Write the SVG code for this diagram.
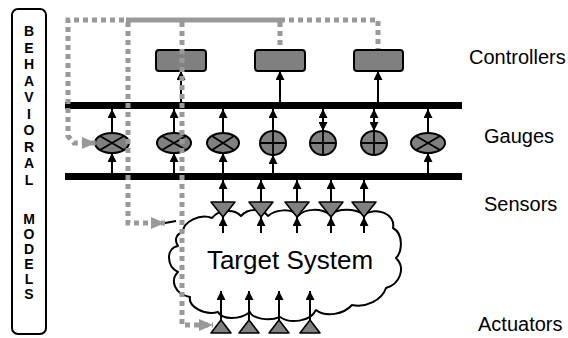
<svg xmlns="http://www.w3.org/2000/svg" width="568" height="338" viewBox="0 0 568 338">
  <defs>
    <marker id="ah" markerUnits="userSpaceOnUse" markerWidth="9" markerHeight="9" refX="9" refY="4.5" orient="auto-start-reverse" viewBox="0 0 9 9">
      <path d="M0,0 L9,4.5 L0,9 Z" fill="#000"/>
    </marker>
    <marker id="gah" markerUnits="userSpaceOnUse" markerWidth="14" markerHeight="12" refX="14" refY="6" orient="auto" viewBox="0 0 14 12">
      <path d="M0,0 L14,6 L0,12 Z" fill="#999"/>
    </marker>
    <style>
      .bg { fill: #fff; }
      .bar { fill: #000; }
      .arr { stroke: #000; stroke-width: 2; fill: none; marker-end: url(#ah); }
      .dbl { stroke: #000; stroke-width: 2; fill: none; marker-end: url(#ah); marker-start: url(#ah); }
      .plain { stroke: #000; stroke-width: 2; fill: none; }
      .ctrl { fill: #808080; stroke: #000; stroke-width: 2; }
      .gauge { fill: #808080; stroke: #000; stroke-width: 2; }
      .mark { stroke: #000; stroke-width: 1.8; fill: none; }
      .tri { fill: #808080; stroke: #000; stroke-width: 1.6; stroke-linejoin: round; }
      .dot { stroke: #999; stroke-width: 5; fill: none; stroke-dasharray: 5 4; }
      .dotarr { stroke: #999; stroke-width: 5; fill: none; stroke-dasharray: 5 4; marker-end: url(#gah); }
      .solid { stroke: #999; stroke-width: 5; fill: none; }
      .cloud { fill: #fff; stroke: #000; stroke-width: 2; stroke-linejoin: round; }
      .lbl { font-family: "Liberation Sans", Arial, sans-serif; font-size: 20px; fill: #000; }
      .big { font-family: "Liberation Sans", Arial, sans-serif; font-size: 26px; fill: #000; }
      .vlet { font-family: "Liberation Sans", Arial, sans-serif; font-size: 14px; font-weight: bold; fill: #000; text-anchor: middle; }
    </style>
  </defs>

  <rect class="bg" x="0" y="0" width="568" height="338"/>

  <!-- behavioral models column -->
  <g id="behavioral-models">
    <rect x="12" y="9" width="34" height="325" rx="6" ry="6" fill="#fff" stroke="#000" stroke-width="2"/>
    <text class="vlet" x="29" y="36">B</text>
    <text class="vlet" x="29" y="52.5">E</text>
    <text class="vlet" x="29" y="69">H</text>
    <text class="vlet" x="29" y="85.5">A</text>
    <text class="vlet" x="29" y="102">V</text>
    <text class="vlet" x="29" y="118.5">I</text>
    <text class="vlet" x="29" y="135">O</text>
    <text class="vlet" x="29" y="151.5">R</text>
    <text class="vlet" x="29" y="168">A</text>
    <text class="vlet" x="29" y="184.5">L</text>
    <text class="vlet" x="29" y="224">M</text>
    <text class="vlet" x="29" y="239">O</text>
    <text class="vlet" x="29" y="254">D</text>
    <text class="vlet" x="29" y="269">E</text>
    <text class="vlet" x="29" y="284">L</text>
    <text class="vlet" x="29" y="299">S</text>
  </g>

  <!-- target system cloud -->
  <g id="target-system">
    <path class="cloud" d="M183,232 C183,222 200,213 212,218 C218,210 234,208 241,216 C248,208 262,208 268,216 C276,209 292,208 298,216 C305,208 322,208 330,215 C338,208 355,208 364,215 C376,206 396,214 393,228 C404,234 402,252 396,258 C406,268 400,284 386,288 C382,300 366,308 352,305 C344,314 326,318 316,310 C310,322 290,324 280,317 C268,322 252,318 250,312 C240,320 222,320 218,312 C204,316 188,306 190,297 C174,294 170,280 178,272 C166,266 166,248 178,246 C174,240 176,234 183,232 Z"/>
    <text class="big" x="290" y="269" text-anchor="middle">Target System</text>
  </g>

  <!-- buses -->
  <g id="gauge-bus-top"><rect class="bar" x="65" y="102" width="397" height="7"/></g>
  <g id="gauge-bus-bottom"><rect class="bar" x="65" y="173" width="397" height="7"/></g>

  <!-- controllers -->
  <g id="controller-1"><rect class="ctrl" x="156" y="50" width="50" height="21" rx="3"/></g>
  <g id="controller-2"><rect class="ctrl" x="255" y="50" width="50" height="21" rx="3"/></g>
  <g id="controller-3"><rect class="ctrl" x="354" y="50" width="49" height="21" rx="3"/></g>

  <!-- gauges -->
  <g id="gauge-1"><ellipse class="gauge" cx="112" cy="143" rx="17" ry="10"/><path class="mark" d="M100,136 L124,150 M100,150 L124,136"/></g>
  <g id="gauge-2"><ellipse class="gauge" cx="174" cy="143" rx="17" ry="10"/><path class="mark" d="M162,136 L186,150 M162,150 L186,136"/></g>
  <g id="gauge-3"><ellipse class="gauge" cx="223" cy="143" rx="16" ry="10"/><path class="mark" d="M212,136 L234,150 M212,150 L234,136"/></g>
  <g id="gauge-4"><ellipse class="gauge" cx="273" cy="143" rx="13" ry="12"/><path class="mark" d="M273,131 V155 M260,143 H286"/></g>
  <g id="gauge-5"><ellipse class="gauge" cx="323" cy="143" rx="13" ry="12"/><path class="mark" d="M323,131 V155 M310,143 H336"/></g>
  <g id="gauge-6"><ellipse class="gauge" cx="374" cy="143" rx="13" ry="12"/><path class="mark" d="M374,131 V155 M361,143 H387"/></g>
  <g id="gauge-7"><ellipse class="gauge" cx="428" cy="143" rx="17" ry="10"/><path class="mark" d="M416,136 L440,150 M416,150 L440,136"/></g>

  <!-- sensors -->
  <g id="sensor-1"><polygon class="tri" points="211,202 235,202 223,217"/></g>
  <g id="sensor-2"><polygon class="tri" points="249,202 273,202 261,217"/></g>
  <g id="sensor-3"><polygon class="tri" points="285,202 309,202 297,217"/></g>
  <g id="sensor-4"><polygon class="tri" points="319,202 343,202 331,217"/></g>
  <g id="sensor-5"><polygon class="tri" points="352,202 376,202 364,217"/></g>

  <!-- actuators -->
  <g id="actuator-1"><polygon class="tri" points="211,333 231,333 221,320"/></g>
  <g id="actuator-2"><polygon class="tri" points="239,333 259,333 249,320"/></g>
  <g id="actuator-3"><polygon class="tri" points="269,333 289,333 279,320"/></g>
  <g id="actuator-4"><polygon class="tri" points="300,333 320,333 310,320"/></g>

  <!-- connectors -->
  <g id="connectors">
    <!-- gauges up to top bus -->
    <path class="arr" d="M112,133 V109"/>
    <path class="arr" d="M174,133 V109"/>
    <path class="arr" d="M223,133 V109"/>
    <path class="arr" d="M273,131 V109"/>
    <path class="dbl" d="M323,131 V109"/>
    <path class="dbl" d="M374,131 V109"/>
    <path class="arr" d="M428,133 V109"/>
    <!-- bottom bus up to gauges -->
    <path class="arr" d="M112,173 V153"/>
    <path class="arr" d="M174,173 V153"/>
    <path class="arr" d="M223,173 V153"/>
    <path class="arr" d="M273,173 V155"/>
    <path class="arr" d="M428,173 V153"/>
    <!-- top bus up to controllers -->
    <path class="arr" d="M181,102 V71"/>
    <path class="arr" d="M280,102 V71"/>
    <path class="arr" d="M378,102 V71"/>
    <!-- sensors up to bottom bus -->
    <path class="arr" d="M223,202 V180"/>
    <path class="arr" d="M261,202 V180"/>
    <path class="arr" d="M297,202 V180"/>
    <path class="arr" d="M331,202 V180"/>
    <path class="arr" d="M364,202 V180"/>
    <!-- target system into sensors -->
    <path class="arr" d="M223,233 V217"/>
    <path class="arr" d="M261,233 V217"/>
    <path class="arr" d="M297,233 V217"/>
    <path class="arr" d="M331,233 V217"/>
    <path class="arr" d="M364,233 V217"/>
    <!-- actuators into target system -->
    <path class="arr" d="M221,320 V291"/>
    <path class="arr" d="M249,320 V291"/>
    <path class="arr" d="M279,320 V291"/>
    <path class="arr" d="M310,320 V291"/>
    <path class="plain" d="M165,223 L176,221"/>

    <!-- behavioral model feedback paths -->
    <path class="solid" d="M126,20 H280"/>
    <path class="dot" d="M280,20 H378 V49"/>
    <path class="dot" d="M280,22 V49"/>
    <path class="dotarr" d="M124,20 H68 V136 L74,143 H96"/>
    <path class="dotarr" d="M128,22 V223 H165"/>
    <path class="dotarr" d="M182,22 V325 H213"/>
  </g>

  <!-- layer labels -->
  <g id="labels">
    <text class="lbl" x="469" y="64">Controllers</text>
    <text class="lbl" x="484" y="143">Gauges</text>
    <text class="lbl" x="484" y="211">Sensors</text>
    <text class="lbl" x="478" y="331">Actuators</text>
  </g>
</svg>
